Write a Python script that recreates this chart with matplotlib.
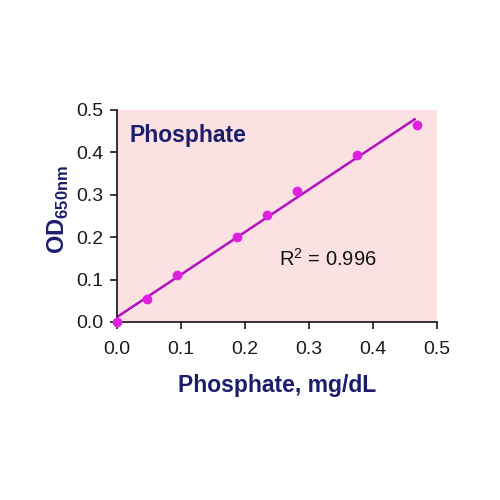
import numpy as np
import matplotlib
matplotlib.use('Agg')
import matplotlib.pyplot as plt

plt.rcParams['font.family'] = ['Liberation Sans', 'DejaVu Sans']
plt.rcParams['mathtext.fontset'] = 'custom'
plt.rcParams['mathtext.rm'] = 'Liberation Sans'
plt.rcParams['mathtext.bf'] = 'Liberation Sans:bold'

phosphate = [0.0, 0.047, 0.094, 0.188, 0.234, 0.281, 0.375, 0.469]
od650 = [0.0, 0.055, 0.112, 0.200, 0.253, 0.308, 0.393, 0.465]
ticks = [0.0, 0.1, 0.2, 0.3, 0.4, 0.5]

navy = '#1c1c6c'

fig = plt.figure(figsize=(5, 5), dpi=100)
ax = fig.add_axes([0.234, 0.356, 0.64, 0.424])
ax.set_facecolor('#fbe1e1')

slope, icpt = np.polyfit(phosphate, od650, 1)
xfit = np.array([0.0, 0.465])
ax.plot(xfit, slope * xfit + icpt, color='#b012c0', lw=1.8, zorder=2)
ax.scatter(phosphate, od650, s=36, color='#e020e0', zorder=3, clip_on=False)

ax.set_xlim(0, 0.5)
ax.set_ylim(0, 0.5)
ax.set_xticks(ticks)
ax.set_yticks(ticks)
ax.set_xticklabels(['%.1f' % t for t in ticks])
ax.set_yticklabels(['%.1f' % t for t in ticks])
for s in ['top', 'right']:
    ax.spines[s].set_visible(False)
for s in ['left', 'bottom']:
    ax.spines[s].set_color('#111111')
    ax.spines[s].set_linewidth(1.2)
ax.tick_params(direction='out', length=5, width=1.2, labelsize=14, colors='#1a1a1a')
ax.tick_params(axis='x', pad=9)
ax.tick_params(axis='y', pad=5)

ax.set_xlabel('Phosphate, mg/dL', fontsize=16.5, fontweight='bold', color=navy, labelpad=11)
ax.set_ylabel(r'OD$_{\mathbf{650nm}}$', fontsize=17, fontweight='bold', color=navy)
ax.yaxis.set_label_coords(-0.145, 0.53)

ax.text(0.04, 0.88, 'Phosphate', transform=ax.transAxes, fontsize=16.5,
        fontweight='bold', color=navy, va='center')
ax.text(0.505, 0.3, r'R$^2$ = 0.996', transform=ax.transAxes, fontsize=14.5,
        color='#111111', va='center')

fig.savefig('out.png', dpi=100)
